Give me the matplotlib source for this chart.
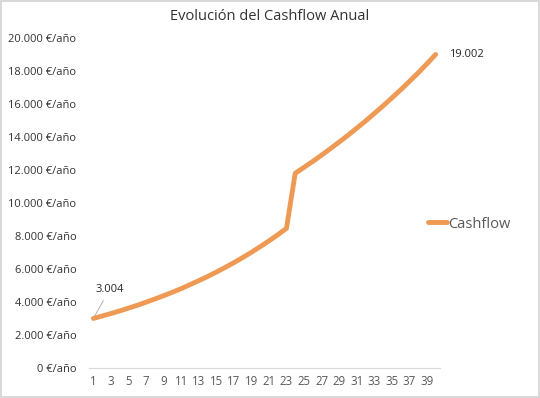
import matplotlib.pyplot as plt
from matplotlib.ticker import FuncFormatter

# Datos del cashflow anual
years = list(range(1, 41))
cashflow = [3004, 3150, 3300, 3460, 3630, 3800, 3990, 4180, 4380, 4590,
            4810, 5050, 5290, 5540, 5810, 6090, 6380, 6690, 7010, 7350,
            7700, 8070, 8460, 11800, 12160, 12520, 12900, 13290, 13690, 14100,
            14530, 14960, 15420, 15880, 16360, 16850, 17360, 17880, 18430, 19002]
x_ticks = list(range(1, 41, 2))
y_ticks = list(range(0, 20001, 2000))

plt.rcParams['font.family'] = ['Open Sans', 'DejaVu Sans']

fig = plt.figure(figsize=(5.4, 3.98), dpi=100)
fig.patch.set_edgecolor('#D9D9D9')
fig.patch.set_linewidth(1.5)
ax = fig.add_axes([89 / 540, 30 / 398, 351 / 540, 330 / 398])

color = '#EE9A55'
ax.plot(years, cashflow, color=color, linewidth=3.5, solid_capstyle='round',
        solid_joinstyle='round', label='Cashflow')

ax.set_xlim(0.5, 40.5)
ax.set_ylim(0, 20000)
ax.set_xticks(x_ticks)
ax.set_yticks(y_ticks)


def fmt(v, pos):
    return '{:,.0f} €/año'.format(v).replace(',', '.')


ax.yaxis.set_major_formatter(FuncFormatter(fmt))
ax.tick_params(axis='y', length=0, pad=9, labelsize=8, labelcolor='#333333')
ax.tick_params(axis='x', length=0, pad=5, labelsize=8.3, labelcolor='#595959')
for s in ['top', 'right', 'left']:
    ax.spines[s].set_visible(False)
ax.spines['bottom'].set_color('#D9D9D9')

# etiquetas de datos del primer y ultimo punto
first = '{:,}'.format(cashflow[0]).replace(',', '.')
last = '{:,}'.format(cashflow[-1]).replace(',', '.')
ax.annotate(first, xy=(years[0], cashflow[0]), xytext=(years[0] + 0.2, cashflow[0] + 1400),
            fontsize=8, color='#262626', ha='left', va='bottom',
            arrowprops=dict(arrowstyle='-', color='#A6A6A6', lw=0.6))
ax.annotate(last, xy=(years[-1], cashflow[-1]), xytext=(10, 0), textcoords='offset points',
            fontsize=8, color='#262626', ha='left', va='center')

fig.text(270 / 540, 1 - 17 / 398, 'Evolución del Cashflow Anual', ha='center', va='center',
         fontsize=10.5, color='#333333')
fig.legend(loc='center left', bbox_to_anchor=(415 / 540, 1 - 224 / 398), frameon=False,
           fontsize=10.5, handlelength=1.3, handletextpad=0.1, labelcolor='#595959')

fig.savefig('out.png', dpi=100)
